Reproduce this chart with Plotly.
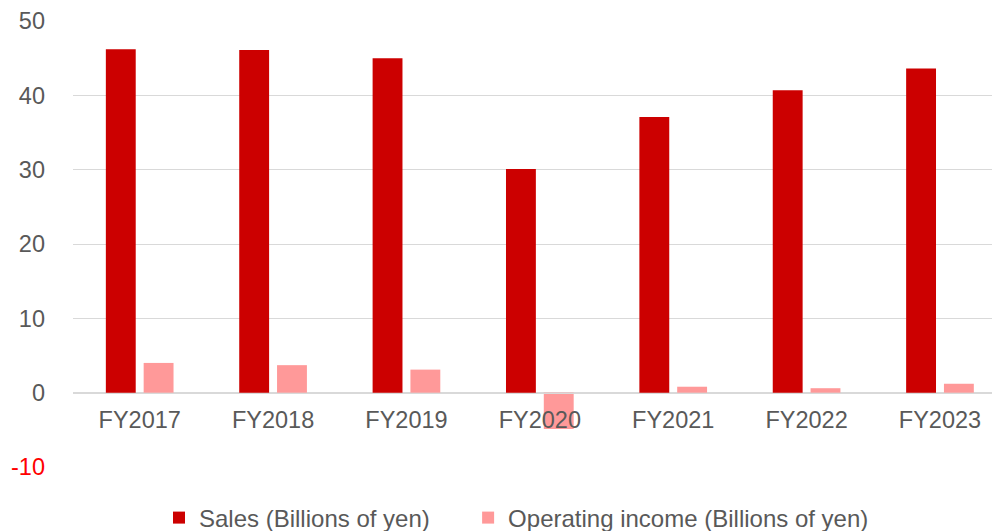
import plotly.graph_objects as go

categories = ["FY2017", "FY2018", "FY2019", "FY2020", "FY2021", "FY2022", "FY2023"]
sales = [46.2, 46.1, 45.0, 30.1, 37.1, 40.7, 43.6]
operating_income = [4.0, 3.7, 3.1, -4.9, 0.8, 0.6, 1.2]
y_ticks = [-10, 0, 10, 20, 30, 40, 50]
y_tick_text = ['<span style="color:#FF0000">-10</span>', "0", "10", "20", "30", "40", "50"]
series_names = ["Sales (Billions of yen)", "Operating income (Billions of yen)"]

FONT = "Liberation Sans, Arial, sans-serif"
GREY = "#595959"

# page body has an 8px default margin, so the figure is laid out 8px smaller
W, H = 992, 523
L, T, B = 65, 13, 64
plot_w = W - L
plot_h = H - T - B

fig = go.Figure()
fig.add_trace(go.Bar(x=categories, y=sales, name=series_names[0] + "\u00a0" * 5,
                     marker=dict(color="#CC0000", line=dict(width=0))))
fig.add_trace(go.Bar(x=categories, y=operating_income, name=series_names[1],
                     marker=dict(color="#FF9999", line=dict(width=0))))

fig.update_layout(
    width=W, height=H,
    margin=dict(l=L, r=0, t=T, b=B, autoexpand=False),
    paper_bgcolor="white", plot_bgcolor="white",
    barmode="group", bargap=0.433, bargroupgap=0.21,
    font=dict(family=FONT, size=23.5, color=GREY),
    showlegend=True,
    legend=dict(orientation="h", x=(151 - L) / plot_w, xanchor="left",
                y=-(510 - (T + plot_h)) / plot_h, yanchor="middle",
                font=dict(size=24, color=GREY),
                traceorder="normal", itemwidth=30),
    xaxis=dict(range=[-0.5, 6.45], showgrid=False, showline=True, linecolor="#D9D9D9", linewidth=1.3,
               anchor="free", position=1/6, ticks="", ticklabelstandoff=6, automargin=False,
               tickfont=dict(size=23.5, color=GREY), zeroline=False),
    yaxis=dict(range=[-10, 50], tickvals=y_ticks, ticktext=y_tick_text, showgrid=True,
               gridcolor="#D9D9D9", gridwidth=1.3, zeroline=False, showline=False, ticks="",
               ticklabelstandoff=27, automargin=False, tickfont=dict(size=23.5, color=GREY)),
)

fig.write_html("out.html")
